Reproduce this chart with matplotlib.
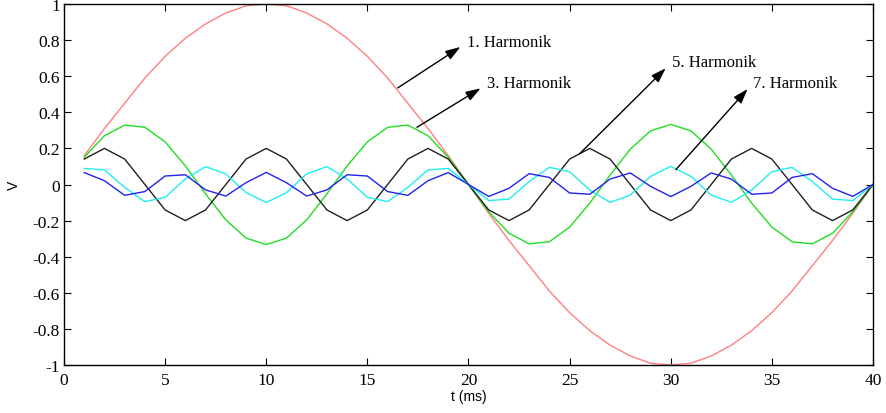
import matplotlib.pyplot as plt

t = list(range(1, 41))

# harmonic components (V), t = 1..40 ms
h1 = [0.16, 0.31, 0.45, 0.59, 0.71, 0.81, 0.89, 0.95, 0.99, 1.00,
      0.99, 0.95, 0.89, 0.81, 0.71, 0.59, 0.45, 0.31, 0.16, 0.00,
      -0.16, -0.31, -0.45, -0.59, -0.71, -0.81, -0.89, -0.95, -0.99, -1.00,
      -0.99, -0.95, -0.89, -0.81, -0.71, -0.59, -0.45, -0.31, -0.16, 0.00]
h3 = [0.151, 0.270, 0.329, 0.317, 0.236, 0.103, -0.052, -0.196, -0.297, -0.333,
      -0.297, -0.196, -0.052, 0.103, 0.236, 0.317, 0.329, 0.270, 0.151, 0.000,
      -0.151, -0.270, -0.329, -0.317, -0.236, -0.103, 0.052, 0.196, 0.297, 0.333,
      0.297, 0.196, 0.052, -0.103, -0.236, -0.317, -0.329, -0.270, -0.151, 0.000]
h5 = [0.141, 0.200, 0.141, 0.000, -0.141, -0.200, -0.141, 0.000, 0.141, 0.200,
      0.141, 0.000, -0.141, -0.200, -0.141, 0.000, 0.141, 0.200, 0.141, 0.000,
      -0.141, -0.200, -0.141, 0.000, 0.141, 0.200, 0.141, 0.000, -0.141, -0.200,
      -0.141, 0.000, 0.141, 0.200, 0.141, 0.000, -0.141, -0.200, -0.141, 0.000]
h7 = [0.089, 0.081, -0.016, -0.095, -0.071, 0.031, 0.099, 0.059, -0.045, -0.100,
      -0.045, 0.059, 0.099, 0.031, -0.071, -0.095, -0.016, 0.081, 0.089, 0.000,
      -0.089, -0.081, 0.016, 0.095, 0.071, -0.031, -0.099, -0.059, 0.045, 0.100,
      0.045, -0.059, -0.099, -0.031, 0.071, 0.095, 0.016, -0.081, -0.089, 0.000]
h9 = [0.066, 0.021, -0.060, -0.039, 0.047, 0.054, -0.030, -0.064, 0.010, 0.067,
      0.010, -0.064, -0.030, 0.054, 0.047, -0.039, -0.060, 0.021, 0.066, 0.000,
      -0.066, -0.021, 0.060, 0.039, -0.047, -0.054, 0.030, 0.064, -0.010, -0.067,
      -0.010, 0.064, 0.030, -0.054, -0.047, 0.039, 0.060, -0.021, -0.066, 0.000]

labels = ["1. Harmonik", "3. Harmonik", "5. Harmonik", "7. Harmonik"]
arrow_tail = [(16.5, 0.535), (17.45, 0.317), (25.5, 0.171), (30.25, 0.082)]
arrow_head = [(19.6, 0.762), (20.6, 0.533), (29.75, 0.644), (33.8, 0.529)]
text_pos = [(19.93, 0.79), (20.93, 0.565), (30.05, 0.68), (34.05, 0.565)]

serif = ["Liberation Serif", "DejaVu Serif"]
sans = ["Liberation Sans", "DejaVu Sans"]

fig = plt.figure(figsize=(8.87, 4.14), dpi=100)
ax = fig.add_axes([64 / 887, 1 - 366 / 414, 809 / 887, 361 / 414])

ax.plot(t, h1, color="#ff8080", lw=1)
ax.plot(t, h3, color="#22dd22", lw=1)
ax.plot(t, h5, color="#202020", lw=1)
ax.plot(t, h7, color="#22eeee", lw=1)
ax.plot(t, h9, color="#2222ee", lw=1)

for lab, tail, head, pos in zip(labels, arrow_tail, arrow_head, text_pos):
    ax.annotate("", xy=head, xytext=tail,
                arrowprops=dict(arrowstyle="-|>,head_length=0.9,head_width=0.3",
                                color="black", lw=1, shrinkA=0, shrinkB=0))
    ax.text(pos[0], pos[1], lab, fontsize=12, family=serif, va="center", ha="left")

ax.set_xlim(0, 40)
ax.set_ylim(-1, 1)
ax.set_xticks(range(0, 41, 5))
ax.set_yticks([-1, -0.8, -0.6, -0.4, -0.2, 0, 0.2, 0.4, 0.6, 0.8, 1])
ax.set_yticklabels(["-1", "-0.8", "-0.6", "-0.4", "-0.2", "0", "0.2", "0.4", "0.6", "0.8", "1"])
ax.tick_params(direction="in", length=5, width=0.8, top=True, right=True)
ax.tick_params(axis="x", pad=5)
ax.tick_params(axis="y", pad=3)
for lb in ax.get_xticklabels() + ax.get_yticklabels():
    lb.set_family(serif)
    lb.set_fontsize(12.5)
for s in ax.spines.values():
    s.set_linewidth(1)

ax.set_xlabel("t (ms)", family=sans, fontsize=10, labelpad=1)
ax.set_ylabel("V", family=sans, fontsize=10, labelpad=8)

fig.savefig("out.png", dpi=100)
